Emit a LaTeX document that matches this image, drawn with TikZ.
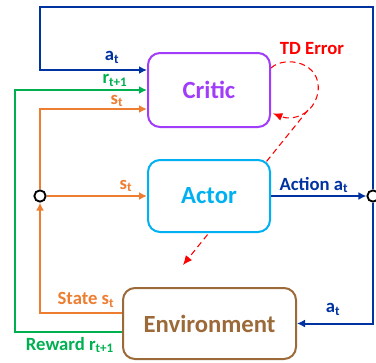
\documentclass[tikz,border=0pt]{standalone}
\usepackage{fontspec}
\setmainfont{Carlito}
\usetikzlibrary{arrows.meta, backgrounds, positioning}
\definecolor{CriticViolet}{RGB}{160,60,250}
\definecolor{ActorCyan}{RGB}{0,176,240}
\definecolor{EnvBrown}{RGB}{156,106,56}
\definecolor{ActionBlue}{RGB}{0,51,160}
\definecolor{RewardGreen}{RGB}{0,176,80}
\definecolor{StateOrange}{RGB}{237,125,49}

\begin{document}
\begin{tikzpicture}[x=0.75pt, y=-0.75pt,
		block/.style={draw, line width=1.5pt, rounded corners=9pt, fill=white, font=\fontsize{18.5}{22}\selectfont\bfseries},%
		junction/.style={circle, draw=black, fill=white, line width=1.4pt, inner sep=0pt, minimum size=8.5pt},%
		flow/.style={line width=1.5pt, -{Latex[length=6pt,width=6pt]}},%
		lbl/.style={font=\fontsize{14}{16}\selectfont\bfseries, inner sep=0pt},%
		tderr/.style={red, line width=0.8pt, dash pattern=on 4.5pt off 3pt, -{Latex[length=7pt,width=6pt]}},%
		]
	\useasboundingbox (0,0) rectangle (376,362);

	\node[block, draw=CriticViolet, text=CriticViolet, minimum width=91.5pt, minimum height=55.5pt] (critic) at (209,90) {Critic};
	\node[block, draw=ActorCyan, text=ActorCyan, minimum width=91.5pt, minimum height=54pt] (actor) at (209,196) {Actor};
	\node[block, draw=EnvBrown, text=EnvBrown, minimum width=129.75pt, minimum height=53.25pt] (env) at (209.5,323.5) {Environment};

	\node[junction] (jL) at (40,196) {};
	\node[junction] (jR) at (373,196) {};

	\coordinate (topL) at (40,7);
	\coordinate (greenL) at (15,90);
	\coordinate (tdfork) at (308,110);
	\coordinate (tdtip) at (183,265);

	% action a_t
	\draw[flow, ActionBlue] (actor.east) -- (jR.west);
	\draw[flow, ActionBlue] (jR.north) |- (topL) |- ([yshift=15pt]critic.west);
	\draw[flow, ActionBlue] (jR.south) |- (env.east);

	% reward r_{t+1}
	\draw[flow, RewardGreen] ([yshift=-6.4pt]env.west) -| (greenL) -- (critic.west);

	% state s_t
	\draw[flow, StateOrange] ([yshift=7.9pt]env.west) -| (jL.south);
	\draw[flow, StateOrange] (jL.east) -- (actor.west);
	\draw[flow, StateOrange] (jL.north) |- ([yshift=-14.25pt]critic.west);

	% td error
	\draw[tderr] ([yshift=16.5pt]critic.east) .. controls (285,55) and (322,62) .. (318,92)
		.. controls (314,115) and (292,121) .. ([xshift=1.5pt,yshift=-17.5pt]critic.east);
	\begin{scope}[on background layer]
		\draw[tderr] (tdfork) -- (tdtip);
	\end{scope}

	\node[lbl, text=ActionBlue] (aTop) at (112,57) {a\textsubscript{t}};
	\node[lbl, text=RewardGreen] (rCritic) at (115,80) {r\textsubscript{t+1}};
	\node[lbl, text=StateOrange] (sCritic) at (117,101) {s\textsubscript{t}};
	\node[lbl, text=StateOrange] (sActor) at (126,186) {s\textsubscript{t}};
	\node[lbl, text=ActionBlue] (action) at (314,185) {Action a\textsubscript{t}};
	\node[lbl, text=ActionBlue] (aEnv) at (333,309) {a\textsubscript{t}};
	\node[lbl, text=StateOrange] (state) at (86,300) {State s\textsubscript{t}};
	\node[lbl, text=RewardGreen] (reward) at (70,345) {Reward r\textsubscript{t+1}};
	\node[lbl, text=red] (tdlabel) at (312,49) {TD Error};
\end{tikzpicture}
\end{document}
